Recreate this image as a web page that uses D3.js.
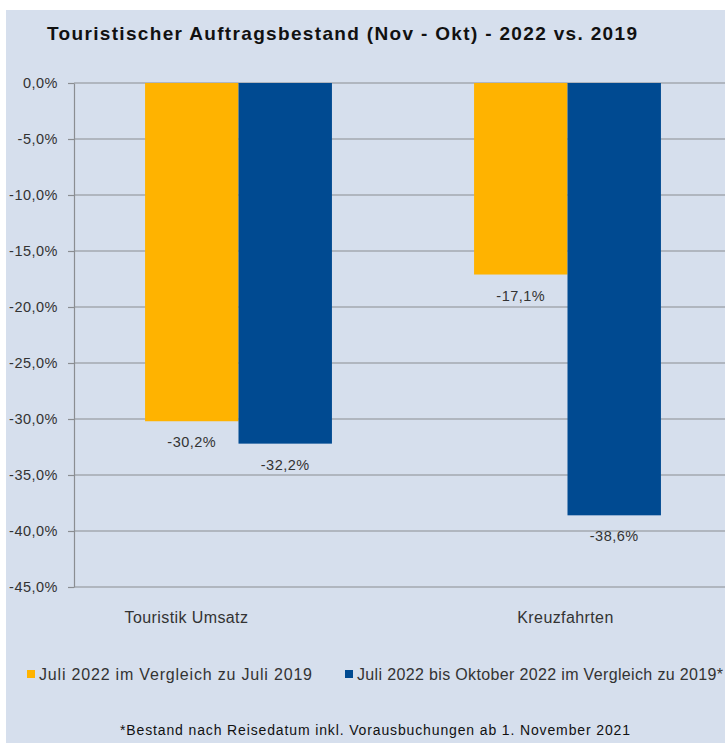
<!DOCTYPE html>
<html>
<head>
<meta charset="utf-8">
<style>
    html, body { margin: 0; padding: 0; background: #fff; }
    svg { display: block; font-family: "Liberation Sans", Arial, sans-serif; }
</style>
</head>
<body>
<svg id="chart" width="725" height="743"></svg>

<script src="https://cdn.jsdelivr.net/npm/d3@7/dist/d3.min.js"></script>
<script>
    // data
    var categories = ["Touristik Umsatz", "Kreuzfahrten"]
    var seriesNames = ["Juli 2022 im Vergleich zu Juli 2019",
                       "Juli 2022 bis Oktober 2022 im Vergleich zu 2019*"]
    var julyValues = [-30.2, -17.1]
    var julyOctValues = [-32.2, -38.6]
    var yTicks = [0, -5, -10, -15, -20, -25, -30, -35, -40, -45]
    var colors = ["#ffb300", "#004a91"]

    var title = "Touristischer Auftragsbestand (Nov - Okt) - 2022 vs. 2019"
    var footnote = "*Bestand nach Reisedatum inkl. Vorausbuchungen ab 1. November 2021"

    var svg = d3.select("#chart"),
        width = +svg.attr("width"),
        height = +svg.attr("height")

    // german decimals, plain hyphen as minus sign
    var de = d3.formatLocale({decimal: ",", thousands: ".", grouping: [3], currency: ["", " €"], minus: "-"})
    var pct = function(v) { return de.format(".1f")(v) + "%" }

    var rows = categories.map(function(c, i) {
        return {category: c, values: [julyValues[i], julyOctValues[i]]}
    })

    // background panel
    svg.append("rect")
        .attr("x", 6).attr("y", 10)
        .attr("width", width).attr("height", height)
        .attr("fill", "#d6dfed")

    var plotLeft = 74, plotRight = 732, plotTop = 83, plotBottom = 587

    var y = d3.scaleLinear().domain([-45, 0]).range([plotBottom, plotTop])
    var x0 = d3.scaleBand().domain(categories).range([plotLeft, plotRight])
        .paddingInner(0.432).paddingOuter(0.216)
    var x1 = d3.scaleBand().domain([0, 1]).range([0, x0.bandwidth()])

    // gridlines
    svg.append("g")
        .selectAll("line")
        .data(yTicks)
        .enter().append("line")
            .attr("x1", plotLeft).attr("x2", plotRight)
            .attr("y1", function(d) { return y(d) }).attr("y2", function(d) { return y(d) })
            .attr("stroke", "#8a8d92").attr("stroke-width", 1.2)

    // y axis
    var yAxis = svg.append("g")
        .attr("transform", "translate(" + plotLeft + ",0)")
        .call(d3.axisLeft(y).tickValues(yTicks).tickFormat(pct).tickSizeOuter(0).tickSizeInner(6).tickPadding(10))
    yAxis.select(".domain").attr("stroke", "#8a8d92").attr("stroke-width", 1.2)
    yAxis.selectAll(".tick line").attr("stroke", "#8a8d92").attr("stroke-width", 1.2)
    yAxis.selectAll(".tick text")
        .attr("font-size", 14.5).attr("fill", "#333").attr("letter-spacing", 0.5)
        .attr("font-family", "Liberation Sans, Arial, sans-serif")

    // bars
    var group = svg.append("g").selectAll("g")
        .data(rows)
        .enter().append("g")
            .attr("transform", function(d) { return "translate(" + x0(d.category) + ",0)" })

    group.selectAll("rect")
        .data(function(d) { return d.values })
        .enter().append("rect")
            .attr("x", function(d, i) { return x1(i) })
            .attr("y", y(0))
            .attr("width", x1.bandwidth())
            .attr("height", function(d) { return y(d) - y(0) })
            .attr("fill", function(d, i) { return colors[i] })

    group.selectAll("text")
        .data(function(d) { return d.values })
        .enter().append("text")
            .attr("x", function(d, i) { return x1(i) + x1.bandwidth() / 2 })
            .attr("y", function(d) { return y(d) + 26 })
            .attr("text-anchor", "middle")
            .attr("font-size", 14.5).attr("letter-spacing", 0.5)
            .attr("fill", "#333")
            .text(pct)

    // category labels
    svg.append("g").selectAll("text")
        .data(categories)
        .enter().append("text")
            .attr("x", function(d) { return x0(d) + x0.bandwidth() / 2 })
            .attr("dx", function(d, i) { return i === 0 ? -52 : -2 })
            .attr("y", 623)
            .attr("text-anchor", "middle")
            .attr("font-size", 16).attr("letter-spacing", 0.4)
            .attr("fill", "#333")
            .text(function(d) { return d })

    // title
    svg.append("text")
        .attr("x", 47).attr("y", 40)
        .attr("font-size", 19).attr("font-weight", "bold")
        .attr("fill", "#111")
        .attr("textLength", 590).attr("lengthAdjust", "spacing")
        .text(title)

    // legend
    var legendX = [27, 345]
    var legend = svg.append("g").selectAll("g")
        .data(seriesNames)
        .enter().append("g")
            .attr("transform", function(d, i) { return "translate(" + legendX[i] + ",670)" })
    legend.append("rect")
        .attr("width", 8).attr("height", 8)
        .attr("fill", function(d, i) { return colors[i] })
    legend.append("text")
        .attr("x", 12).attr("y", 9.5)
        .attr("font-size", 16)
        .attr("fill", "#333")
        .attr("textLength", function(d, i) { return i === 0 ? 273 : 366 })
        .attr("lengthAdjust", "spacing")
        .text(function(d) { return d })

    // footnote
    svg.append("text")
        .attr("x", 120).attr("y", 735)
        .attr("font-size", 14)
        .attr("fill", "#111")
        .attr("textLength", 510).attr("lengthAdjust", "spacing")
        .text(footnote)
</script>
</body>
</html>
